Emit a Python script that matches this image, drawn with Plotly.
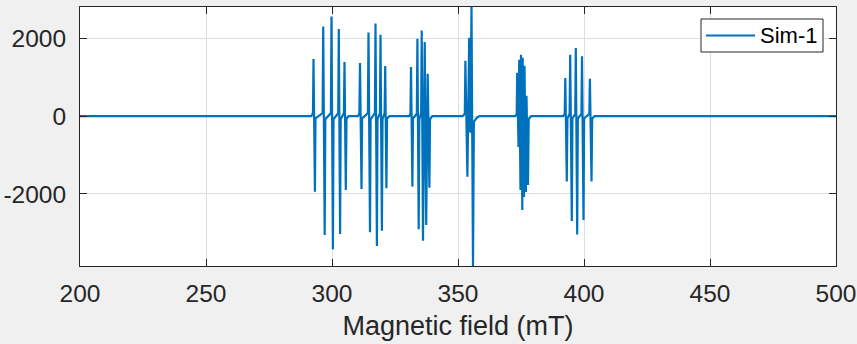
import plotly.graph_objects as go

# Simulated EPR spectrum (Sim-1): field in mT, first-derivative intensity.
# Each hyperfine line is traced as baseline -> positive lobe -> negative lobe -> baseline.
field_mT = [
    200.0,
    # group around 293-306 mT
    291.8, 292.45, 292.66, 293.22, 293.45,
    296.28, 296.51, 297.10, 297.35,
    299.57, 299.80, 300.36, 300.60,
    302.47, 302.70, 303.21, 303.45,
    304.73, 304.96, 305.48, 305.75, 306.6,
    # group around 311-322 mT
    310.3, 310.88, 311.11, 311.71, 311.95,
    314.25, 314.48, 315.08, 315.32,
    317.03, 317.26, 317.82, 318.05,
    319.02, 319.25, 319.80, 320.05,
    320.88, 321.11, 321.59, 321.85, 322.8,
    # group around 331-339 mT
    330.6, 331.13, 331.35, 331.90, 332.15,
    333.66, 333.89, 334.40, 334.65,
    335.38, 335.60, 336.11, 336.35,
    336.58, 336.79, 337.38, 337.60,
    337.78, 337.98, 338.65, 338.90, 339.8,
    # group around 353-356 mT
    351.8, 352.70, 352.93, 353.73, 354.10,
    354.44, 354.88, 355.36, 355.95, 356.30, 357.5, 358.5,
    # group around 373-378 mT
    372.8, 373.30, 373.49, 374.01, 374.29, 374.80, 375.00, 375.52,
    375.67, 376.19, 376.39, 376.94, 377.18, 377.78, 378.05, 379.0,
    # group around 392-403 mT
    391.7, 392.35, 392.58, 393.17, 393.42,
    394.29, 394.52, 395.16, 395.40,
    396.52, 396.75, 397.30, 397.55,
    398.98, 399.21, 399.80, 400.05,
    402.11, 402.34, 402.98, 403.25, 404.2,
    500.0,
]

intensity = [
    0,
    0, 80, 1467, -1941, -60,
    80, 2306, -3055, -80,
    80, 2564, -3423, -80,
    80, 2239, -3030, -80,
    80, 1390, -1897, -60, 0,
    0, 80, 1364, -1876, -60,
    80, 2152, -2986, -80,
    80, 2384, -3338, -80,
    80, 2093, -2945, -80,
    80, 1287, -1853, -60, 0,
    0, 60, 1261, -1812, -60,
    60, 1990, -2909, -100,
    100, 2203, -3202, -100,
    100, 1905, -2798, -100,
    100, 1089, -1840, -80, 0,
    0, 60, 1423, -1555, 300,
    2015, -430, 2806, -3853, -150, -40, 0,
    0, 60, 1115, -790, 1449, -1897, 1578, -2412,
    1501, -2077, 1295, -1949, 523, -1768, -80, 0,
    0, 60, 978, -1683, -60,
    60, 1578, -2695, -60,
    60, 1750, -3042, -60,
    60, 1539, -2669, -60,
    60, 960, -1683, -60, 0,
    0,
]

x_ticks = [200, 250, 300, 350, 400, 450, 500]
y_ticks = [-2000, 0, 2000]
trace_name = "Sim-1"
x_title = "Magnetic field (mT)"

LINE = "#0072BD"
INK = "#262626"
GRID = "#DEDEDE"
FONT = "Liberation Sans, Arial, Helvetica, sans-serif"

fig = go.Figure()
fig.add_trace(go.Scatter(
    x=field_mT, y=intensity, mode="lines", name=trace_name,
    line=dict(color=LINE, width=2.2), showlegend=False,
))

W, H = 857, 344
L, R, T, B = 80, 21, 7, 78
pw, ph = W - L - R, H - T - B


def px(x):
    return (x - L) / pw


def py(y):
    return 1 - (y - T) / ph


# Boxed legend in the upper right corner
fig.add_shape(type="rect", xref="paper", yref="paper",
              x0=px(701), x1=px(823), y0=py(52), y1=py(19),
              line=dict(color=INK, width=1), fillcolor="white", layer="above")
fig.add_shape(type="line", xref="paper", yref="paper",
              x0=px(706), x1=px(755), y0=py(35.5), y1=py(35.5),
              line=dict(color=LINE, width=2.2), layer="above")
fig.add_annotation(text=trace_name, xref="paper", yref="paper",
                   x=px(758), y=py(35.5), xanchor="left", yanchor="middle",
                   showarrow=False, font=dict(family=FONT, size=22, color="#000000"))

axis_common = dict(
    showline=True, linecolor=INK, linewidth=1, mirror="ticks",
    ticks="inside", ticklen=7, tickcolor=INK, tickwidth=1,
    showgrid=True, gridcolor=GRID, gridwidth=1, zeroline=False,
    tickfont=dict(family=FONT, size=24.5, color=INK),
)

fig.update_xaxes(
    range=[200, 500], tickvals=x_ticks, ticktext=[str(v) for v in x_ticks],
    ticklabelstandoff=6,
    title=dict(text=x_title, font=dict(family=FONT, size=27, color=INK), standoff=9),
    **axis_common,
)
fig.update_yaxes(
    range=[min(intensity), max(intensity)], tickvals=y_ticks,
    ticktext=[str(v) for v in y_ticks], ticklabelstandoff=8,
    **axis_common,
)

fig.update_layout(
    width=W, height=H,
    margin=dict(l=L, r=R, t=T, b=B, autoexpand=False),
    paper_bgcolor="#F0F0F0", plot_bgcolor="white",
    font=dict(family=FONT, color=INK),
)

fig.write_html("out.html")
